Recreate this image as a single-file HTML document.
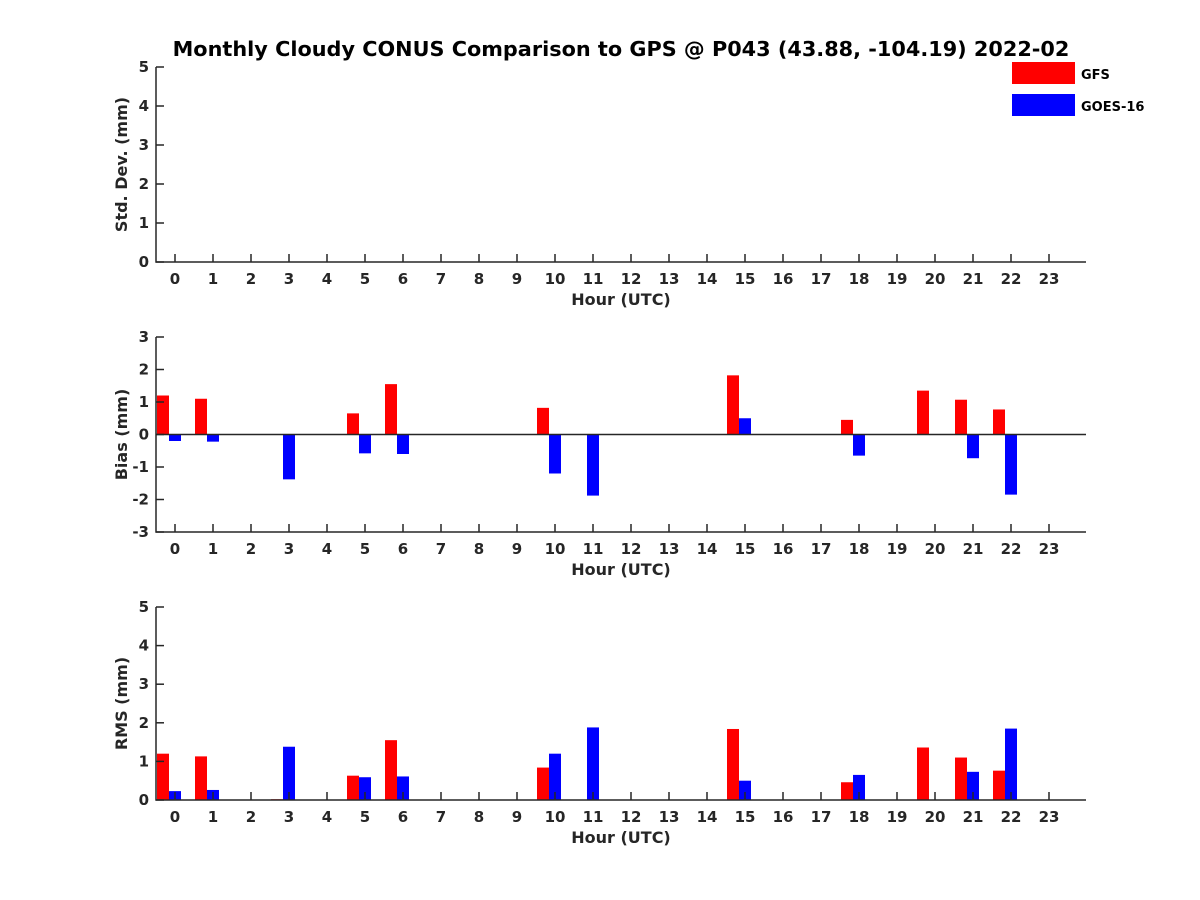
<!DOCTYPE html>
<html><head><meta charset="utf-8">
<style>
html,body{margin:0;padding:0;background:#fff;}
svg{display:block;font-family:"DejaVu Sans","Liberation Sans",sans-serif;font-weight:bold;}
</style></head>
<body>
<svg id="chart" width="1200" height="900" viewBox="0 0 1200 900" xmlns="http://www.w3.org/2000/svg">
<rect width="1200" height="900" fill="#fff"/>
<text x="621" y="56" text-anchor="middle" font-size="20.8" fill="#000">Monthly Cloudy CONUS Comparison to GPS @ P043 (43.88, -104.19) 2022-02</text>
<g>
<rect x="1012" y="62" width="63" height="22" fill="#ff0000"/>
<text x="1081" y="79" font-size="13" fill="#000">GFS</text>
<rect x="1012" y="94" width="63" height="22" fill="#0000ff"/>
<text x="1081" y="111" font-size="13" fill="#000">GOES-16</text>
</g>
</svg>
<script>
const hours = [0,1,2,3,4,5,6,7,8,9,10,11,12,13,14,15,16,17,18,19,20,21,22,23];
const stdGFS = [];
const stdGOES = [];
const biasGFS = {0:1.2,1:1.1,5:0.65,6:1.55,10:0.82,15:1.82,18:0.45,20:1.35,21:1.07,22:0.77};
const biasGOES = {0:-0.2,1:-0.22,3:-1.38,5:-0.58,6:-0.6,10:-1.2,11:-1.88,15:0.5,18:-0.65,21:-0.73,22:-1.85};
const rmsGFS = {0:1.2,1:1.13,3:0.02,5:0.63,6:1.55,10:0.84,15:1.84,18:0.46,20:1.36,21:1.1,22:0.76};
const rmsGOES = {0:0.23,1:0.26,3:1.38,5:0.59,6:0.61,10:1.2,11:1.88,15:0.5,18:0.65,21:0.73,22:1.85};
const stdTicks = [0,1,2,3,4,5];
const biasTicks = [-3,-2,-1,0,1,2,3];
const rmsTicks = [0,1,2,3,4,5];

const svg = document.getElementById('chart');
const NS = 'http://www.w3.org/2000/svg';
function el(tag, attrs){const e=document.createElementNS(NS,tag);for(const k in attrs)e.setAttribute(k,attrs[k]);svg.appendChild(e);return e;}
const X0=156, X1=1086;
function xs(h){return 175 + h*38;}

function panel(name, top, bottom, ymin, ymax, ticks, ylabel, gfs, goes, zeroLine){
  function ys(v){return bottom - (v-ymin)/(ymax-ymin)*(bottom-top);}
  const z = ys(Math.max(ymin, Math.min(0, ymax)));
  for(const h in gfs){
    const v=gfs[h]; const y=ys(v);
    const b=el('rect',{x:xs(+h)-18,y:Math.min(y,z),width:12,height:Math.abs(y-z),fill:'#ff0000'});
    
    
  }
  for(const h in goes){
    const v=goes[h]; const y=ys(v);
    const b=el('rect',{x:xs(+h)-6,y:Math.min(y,z),width:12,height:Math.abs(y-z),fill:'#0000ff'});
    
    
  }
  if(zeroLine){
    const zl=el('line',{x1:X0,x2:X1,y1:ys(0),y2:ys(0),stroke:'#262626','stroke-width':1.5});
    
    
  }
  const ax=el('path',{d:`M${X0},${top} L${X0},${bottom} L${X1},${bottom}`,fill:'none',stroke:'#262626','stroke-width':1.5});
  
  
  ticks.forEach(t=>{
    const y=ys(t);
    el('line',{x1:X0,x2:X0+8,y1:y,y2:y,stroke:'#262626','stroke-width':1.5});
    const tl=el('text',{x:X0-7,y:y+5,'text-anchor':'end','font-size':15,fill:'#262626'});
    tl.textContent=t;
    
    
  });
  hours.forEach(h=>{
    const x=xs(h);
    el('line',{x1:x,x2:x,y1:bottom,y2:bottom-8,stroke:'#262626','stroke-width':1.5});
    const tl=el('text',{x:x,y:bottom+22,'text-anchor':'middle','font-size':15,fill:'#262626'});
    tl.textContent=h;
    
    
  });
  const xt=el('text',{x:621,y:bottom+43,'text-anchor':'middle','font-size':16,fill:'#262626'});
  xt.textContent='Hour (UTC)';
  
  
  const cy=(top+bottom)/2;
  const yt=el('text',{x:0,y:0,transform:`translate(127,${cy}) rotate(-90)`,'text-anchor':'middle','font-size':16,fill:'#262626'});
  yt.textContent=ylabel;
  
  
}
panel('std',67,262,0,5,stdTicks,'Std. Dev. (mm)',stdGFS,stdGOES,false);
panel('bias',337,532,-3,3,biasTicks,'Bias (mm)',biasGFS,biasGOES,true);
panel('rms',607,800,0,5,rmsTicks,'RMS (mm)',rmsGFS,rmsGOES,false);
</script>
</body></html>
